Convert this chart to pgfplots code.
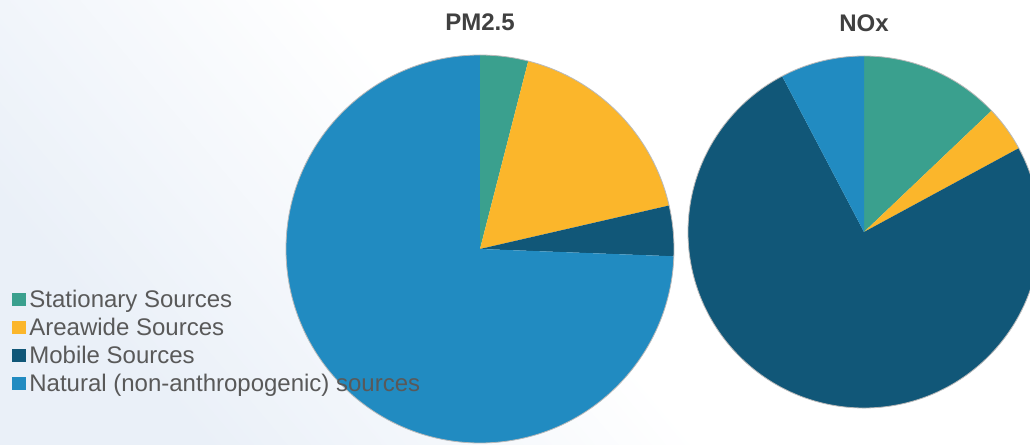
\documentclass[border=0pt]{standalone}
\usepackage{fontspec}
\setmainfont{Liberation Sans}
\usepackage{pgfplots}
\usepackage{pgfplotstable}
\pgfplotsset{compat=1.18}

\definecolor{cStat}{HTML}{3AA08E}
\definecolor{cArea}{HTML}{FBB62B}
\definecolor{cMob}{HTML}{115778}
\definecolor{cNat}{HTML}{218BC1}
\definecolor{titlegray}{HTML}{404040}
\definecolor{legendgray}{HTML}{595959}
\definecolor{bgLL}{HTML}{EAF0F8}
\colorlet{slice0}{cStat}
\colorlet{slice1}{cArea}
\colorlet{slice2}{cMob}
\colorlet{slice3}{cNat}

% share of each source, percent
\pgfplotstableread{
source       pm     nox
Stationary   4.0    12.9
Areawide     17.4   4.2
Mobile       4.2    75.2
Natural      74.4   7.7
}\emissions
\pgfplotstablecreatecol[expr accum={\pgfmathaccuma+\thisrow{pm}}{0}]{pmcum}\emissions
\pgfplotstablecreatecol[expr accum={\pgfmathaccuma+\thisrow{nox}}{0}]{noxcum}\emissions

% slices of column #1, clockwise from 12 o'clock, radius #2
\newcommand\pieslices[2]{%
  \pgfplotsforeachungrouped \i in {0,1,2,3}{%
    \pgfplotstablegetelem{\i}{#1}\of\emissions \let\val\pgfplotsretval
    \pgfplotstablegetelem{\i}{#1cum}\of\emissions \let\cum\pgfplotsretval
    \pgfmathsetmacro\aend{90-3.6*\cum}%
    \pgfmathsetmacro\astart{\aend+3.6*\val}%
    \edef\temp{\noexpand\fill[slice\i] (axis cs:0,0) -- (axis cs:{cos(\astart)},{sin(\astart)})
      arc[start angle=\astart, end angle=\aend, radius=#2] -- cycle;}%
    \temp
  }%
  \draw[gray!55, line width=0.4pt] (axis cs:0,0) circle[radius=#2];
}

\pgfplotsset{
  pie axis/.style={
    hide axis, xmin=-1, xmax=1, ymin=-1, ymax=1, clip=false,
    anchor=center,
    title style={at={(0.5,1)}, anchor=base, yshift=6pt,
      font=\fontsize{12}{14}\selectfont\bfseries, text=titlegray},
  },
}

\begin{document}
\begin{tikzpicture}
\useasboundingbox (0pt,0pt) rectangle (515pt,222.5pt);
\clip (0pt,0pt) rectangle (515pt,222.5pt);
\shade[top color=white, bottom color=bgLL, middle color=white, shading angle=-50]
  (0pt,0pt) rectangle (515pt,222.5pt);

\begin{axis}[pie axis, x=97pt, y=97pt, at={(240pt,98pt)}, title={PM2.5},
  legend style={at={(-0.7062,0.3995)}, anchor=north west, draw=none, fill=none,
    inner sep=0pt, row sep=1pt, column sep=1pt,
    nodes={inner sep=0.5pt, text height=9pt, text depth=3pt,
      font=\fontsize{12}{14}\selectfont, text=legendgray},
    cells={anchor=west}},
  legend image code/.code={\fill[#1, draw=none] (0pt,-2.5pt) rectangle (7pt,4.2pt);},
]
\pieslices{pm}{97pt}
\addlegendimage{fill=cStat}\addlegendentry{Stationary Sources}
\addlegendimage{fill=cArea}\addlegendentry{Areawide Sources}
\addlegendimage{fill=cMob}\addlegendentry{Mobile Sources}
\addlegendimage{fill=cNat}\addlegendentry{Natural (non-anthropogenic) sources}
\end{axis}

\begin{axis}[pie axis, x=88pt, y=88pt, at={(432pt,106.5pt)}, title={NOx}]
\pieslices{nox}{88pt}
\end{axis}
\end{tikzpicture}
\end{document}
